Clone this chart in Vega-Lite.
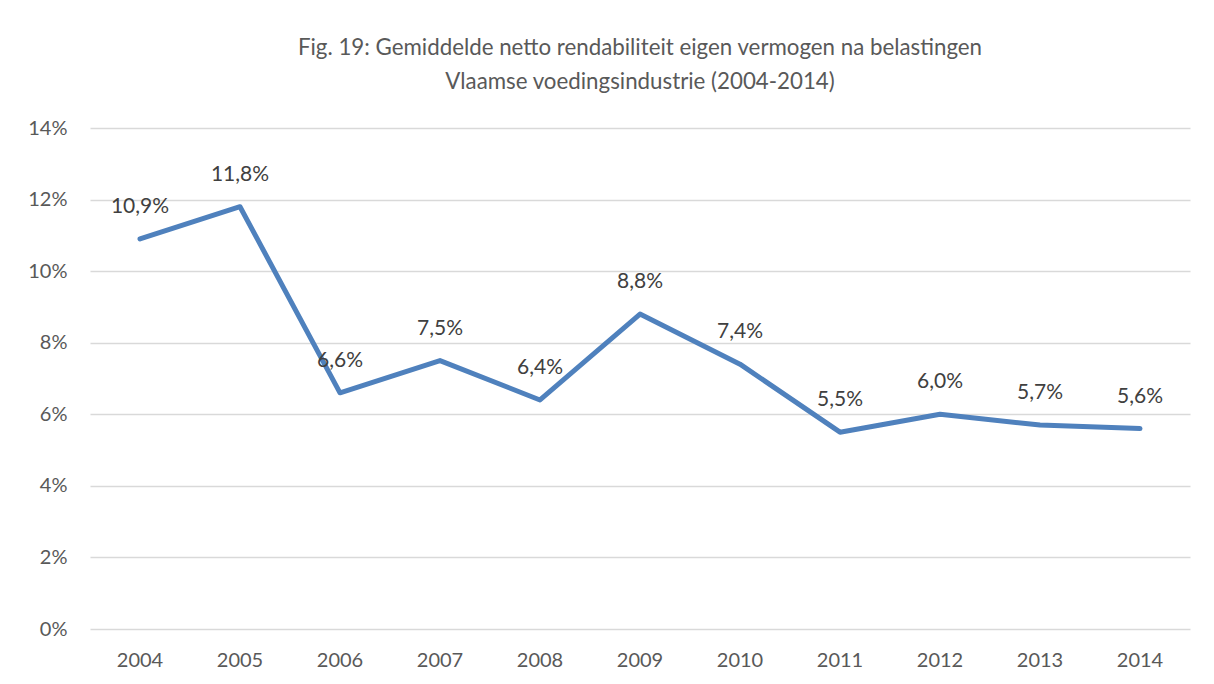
{
  "$schema": "https://vega.github.io/schema/vega-lite/v6.json",
  "width": 1100,
  "height": 501,
  "autosize": {"type": "none"},
  "padding": {"left": 90, "top": 128, "right": 24, "bottom": 55},
  "background": "white",
  "title": {
    "text": ["Fig. 19: Gemiddelde netto rendabiliteit eigen vermogen na belastingen", "Vlaamse voedingsindustrie (2004-2014)"],
    "anchor": "middle",
    "font": "Lato",
    "fontSize": 22.3,
    "fontWeight": "normal",
    "color": "#595959",
    "lineHeight": 34,
    "offset": 25
  },
  "config": {
    "locale": {"number": {"decimal": ",", "thousands": ".", "grouping": [3], "currency": ["€", ""]}},
    "view": {"stroke": null},
    "font": "Lato"
  },
  "data": {
    "values": [
      {"year": "2004", "value": 0.109},
      {"year": "2005", "value": 0.118},
      {"year": "2006", "value": 0.066},
      {"year": "2007", "value": 0.075},
      {"year": "2008", "value": 0.064},
      {"year": "2009", "value": 0.088},
      {"year": "2010", "value": 0.074},
      {"year": "2011", "value": 0.055},
      {"year": "2012", "value": 0.060},
      {"year": "2013", "value": 0.057},
      {"year": "2014", "value": 0.056}
    ]
  },
  "encoding": {
    "x": {
      "field": "year", "type": "ordinal",
      "scale": {"type": "band", "paddingInner": 0, "paddingOuter": 0},
      "axis": {"title": null, "labelAngle": 0, "ticks": false, "domain": false, "labelFont": "Lato", "labelFontSize": 20, "labelColor": "#595959", "labelPadding": 21, "grid": false}
    },
    "y": {
      "field": "value", "type": "quantitative",
      "scale": {"domain": [0, 0.14]},
      "axis": {"title": null, "values": [0, 0.02, 0.04, 0.06, 0.08, 0.1, 0.12, 0.14], "format": ".0%", "ticks": false, "domain": false, "labelFont": "Lato", "labelFontSize": 20, "labelColor": "#595959", "labelPadding": 23, "grid": true, "gridColor": "#d9d9d9", "gridWidth": 1.5}
    }
  },
  "layer": [
    {
      "mark": {"type": "line", "color": "#4F81BD", "strokeWidth": 5, "strokeJoin": "round", "strokeCap": "round"}
    },
    {
      "mark": {"type": "text", "dy": -32, "font": "Lato", "fontSize": 21, "color": "#404040"},
      "encoding": {"text": {"field": "value", "type": "quantitative", "format": ".1%"}}
    }
  ]
}
